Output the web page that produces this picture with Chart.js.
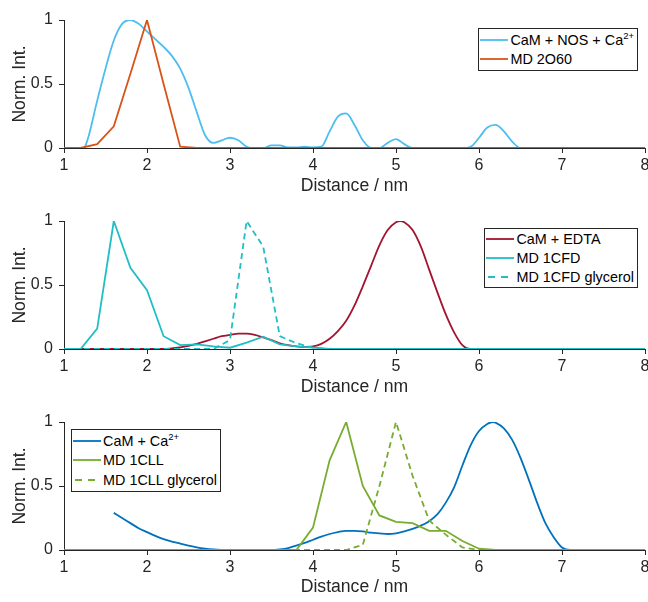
<!DOCTYPE html>
<html>
<head>
<meta charset="utf-8">
<script src="https://cdn.jsdelivr.net/npm/chart.js@4.4.0/dist/chart.umd.min.js"></script>
<style>
  body { margin: 0; background: #fff; }
  #wrap { position: relative; width: 648px; height: 602px; overflow: hidden; font-family: 'Liberation Sans', Arial, sans-serif; }
  canvas { position: absolute; left: 0; }
  .legend { position: absolute; border: 1px solid #262626; background: #fff; font-size: 14.4px; color: #000; padding: 1px 3px 1px 1px; }
  .row { display: flex; align-items: center; height: 19.5px; white-space: nowrap; }
  #leg2 .row { height: 18.8px; }
  .row svg { margin-right: 2px; flex: none; }
  sup { font-size: 9.5px; line-height: 0; vertical-align: 6px; }
</style>
</head>
<body>
<div id="wrap">
  <canvas id="c1" width="648" height="201" style="top:0"></canvas>
  <canvas id="c2" width="648" height="201" style="top:201px"></canvas>
  <canvas id="c3" width="648" height="200" style="top:402px"></canvas>
  <div class="legend" id="leg1" style="top:28px; right:10px"></div>
  <div class="legend" id="leg2" style="top:228px; right:10px"></div>
  <div class="legend" id="leg3" style="top:429px; left:71px"></div>
</div>
<script>
// panel 1 : CaM + NOS + Ca2+ vs MD 2O60
const nosX = [1.25, 1.3, 1.4, 1.5, 1.6, 1.7, 1.8, 1.9, 2.0, 2.1, 2.2, 2.3, 2.4, 2.5, 2.6, 2.7, 2.8, 2.9, 3.0, 3.1, 3.2, 3.3, 3.4,
  3.5, 3.6, 3.7, 3.8, 3.9, 4.0, 4.1, 4.2, 4.3, 4.4, 4.5, 4.6, 4.7, 4.8, 4.9, 5.0, 5.1, 5.2, 5.8, 5.9, 6.0, 6.1, 6.2, 6.3, 6.4, 6.5, 8.0];
const nosY = [0, 0.1, 0.37, 0.62, 0.84, 0.97, 1.0, 0.97, 0.91, 0.85, 0.79, 0.72, 0.62, 0.47, 0.28, 0.1, 0.04, 0.06, 0.08, 0.06, 0.01, 0, 0,
  0.02, 0.02, 0.005, 0.005, 0.01, 0.005, 0.01, 0.13, 0.245, 0.27, 0.18, 0.06, 0, 0, 0.04, 0.07, 0.03, 0, 0, 0.01, 0.08, 0.16, 0.18, 0.13, 0.05, 0, 0];
const md2o60X = [1.0, 1.2, 1.4, 1.6, 1.8, 2.0, 2.2, 2.4, 2.6, 8.0];
const md2o60Y = [0, 0, 0.03, 0.17, 0.58, 1.0, 0.5, 0.01, 0, 0];

// panel 2 : CaM + EDTA vs MD 1CFD
const edtaX = [1.0, 2.2, 2.3, 2.4, 2.5, 2.6, 2.7, 2.8, 2.9, 3.0, 3.1, 3.2, 3.3, 3.4, 3.5, 3.6, 3.7, 3.8, 3.9, 4.0, 4.1, 4.2, 4.3,
  4.4, 4.5, 4.6, 4.7, 4.8, 4.9, 5.0, 5.05, 5.1, 5.2, 5.3, 5.4, 5.5, 5.6, 5.7, 5.8, 5.9, 8.0];
const edtaY = [0, 0, 0.005, 0.012, 0.025, 0.04, 0.06, 0.08, 0.1, 0.11, 0.12, 0.12, 0.11, 0.09, 0.07, 0.045, 0.03, 0.02, 0.015, 0.02, 0.04, 0.08, 0.14,
  0.22, 0.34, 0.49, 0.65, 0.81, 0.93, 0.99, 1.0, 0.99, 0.93, 0.8, 0.62, 0.44, 0.27, 0.13, 0.03, 0, 0];
const md1cfdX = [1.0, 1.2, 1.4, 1.6, 1.8, 2.0, 2.2, 2.4, 2.6, 2.8, 3.0, 3.2, 3.4, 3.6, 3.8, 4.0, 4.2, 8.0];
const md1cfdY = [0, 0, 0.16, 1.0, 0.635, 0.46, 0.1, 0.03, 0.036, 0.02, 0.01, 0.05, 0.096, 0.036, 0.02, 0.01, 0, 0];
const md1cfdGlyX = [1.0, 2.8, 3.0, 3.2, 3.4, 3.6, 3.8, 4.0, 4.2, 8.0];
const md1cfdGlyY = [0, 0, 0.07, 1.0, 0.8, 0.1, 0.045, 0.01, 0, 0];

// panel 3 : CaM + Ca2+ vs MD 1CLL
const caX = [1.6, 1.7, 1.8, 1.9, 2.0, 2.1, 2.2, 2.3, 2.4, 2.5, 2.6, 2.7, 2.8, 2.9, 3.0, 3.5, 3.6, 3.7, 3.8, 3.9, 4.0, 4.1, 4.2, 4.3,
  4.4, 4.5, 4.6, 4.7, 4.8, 4.9, 5.0, 5.1, 5.2, 5.3, 5.4, 5.5, 5.6, 5.7, 5.8, 5.9, 6.0, 6.1, 6.17, 6.2, 6.3, 6.4, 6.5, 6.6, 6.7, 6.8, 6.9, 7.0, 7.1, 8.0];
const caY = [0.29, 0.25, 0.21, 0.17, 0.14, 0.11, 0.085, 0.065, 0.05, 0.035, 0.02, 0.01, 0.004, 0.001, 0, 0, 0.005, 0.015, 0.035, 0.055, 0.08, 0.105, 0.125, 0.14,
  0.15, 0.15, 0.145, 0.135, 0.13, 0.125, 0.13, 0.145, 0.165, 0.19, 0.225, 0.28, 0.37, 0.49, 0.66, 0.82, 0.93, 0.985, 1.0, 0.995, 0.95, 0.86, 0.72, 0.55, 0.37, 0.21, 0.1, 0.02, 0, 0];
const md1cllX = [1.0, 3.8, 4.0, 4.2, 4.4, 4.6, 4.8, 5.0, 5.2, 5.4, 5.6, 5.8, 6.0, 6.2, 8.0];
const md1cllY = [0, 0, 0.175, 0.7, 1.0, 0.5, 0.27, 0.22, 0.21, 0.15, 0.15, 0.07, 0.01, 0, 0];
const md1cllGlyX = [1.0, 4.4, 4.6, 4.8, 5.0, 5.2, 5.4, 5.6, 5.8, 6.0, 8.0];
const md1cllGlyY = [0, 0, 0.04, 0.5, 1.0, 0.58, 0.23, 0.12, 0.02, 0, 0];

const axisColor = '#262626';
const fontFamily = "'Liberation Sans', Arial, sans-serif";

function pts(xs, ys) {
  return xs.map((x, i) => ({ x: x, y: ys[i] }));
}

function series(label, xs, ys, color, opts) {
  const o = opts || {};
  return {
    label: label,
    data: pts(xs, ys),
    borderColor: color,
    borderWidth: 1.8,
    borderDash: o.dash ? [6, 4] : [],
    pointRadius: 0,
    fill: false,
    tension: 0,
    cubicInterpolationMode: o.smooth ? 'monotone' : 'default',
    order: o.order
  };
}

function makePanel(id, datasets, axisH) {
  const ctx = document.getElementById(id).getContext('2d');
  return new Chart(ctx, {
    type: 'line',
    data: { datasets: datasets },
    options: {
      responsive: false,
      animation: false,
      events: [],
      layout: { padding: { top: 20, right: 3, left: 0, bottom: 0 } },
      plugins: { legend: { display: false }, tooltip: { enabled: false } },
      scales: {
        x: {
          type: 'linear', min: 1, max: 8,
          afterFit: s => { s.height = axisH; s.paddingLeft = 0; s.paddingRight = 0; },
          ticks: { stepSize: 1, color: axisColor, font: { size: 16, family: fontFamily }, padding: 3, maxRotation: 0, autoSkip: false },
          grid: { drawOnChartArea: false, drawTicks: true, tickLength: 5, color: axisColor },
          border: { color: axisColor, width: 1 },
          title: { display: true, text: 'Distance / nm', color: axisColor, font: { size: 17.6, family: fontFamily }, padding: { top: 0, bottom: 4 } }
        },
        y: {
          min: 0, max: 1,
          afterFit: s => { s.width = 64; s.paddingTop = 0; s.paddingBottom = 0; },
          ticks: { stepSize: 0.5, color: axisColor, font: { size: 16, family: fontFamily }, padding: 6, callback: v => String(v) },
          grid: { drawOnChartArea: false, drawTicks: true, tickLength: 5, color: axisColor },
          border: { color: axisColor, width: 1 },
          title: { display: true, text: 'Norm. Int.', color: axisColor, font: { size: 17.6, family: fontFamily }, padding: { top: 10, bottom: 0 } }
        }
      }
    }
  });
}

function legendRow(html, color, dashed) {
  const dash = dashed ? ' stroke-dasharray="7 6" stroke-dashoffset="-2"' : '';
  return '<div class="row"><svg width="28" height="4"><line x1="0" y1="2" x2="28" y2="2" stroke="' + color +
    '" stroke-width="1.8"' + dash + '/></svg><span>' + html + '</span></div>';
}

const c1 = '#4DBEEE', c2 = '#D95319';
const c3 = '#A2142F', c4 = '#1FBFC4';
const c5 = '#0072BD', c6 = '#77AC30';

makePanel('c1', [
  series('CaM + NOS + Ca2+', nosX, nosY, c1, { smooth: true, order: 2 }),
  series('MD 2O60', md2o60X, md2o60Y, c2, { order: 1 })
], 53);

makePanel('c2', [
  series('CaM + EDTA', edtaX, edtaY, c3, { smooth: true, order: 3 }),
  series('MD 1CFD', md1cfdX, md1cfdY, c4, { order: 2 }),
  series('MD 1CFD glycerol', md1cfdGlyX, md1cfdGlyY, c4, { dash: true, order: 1 })
], 53);

makePanel('c3', [
  series('CaM + Ca2+', caX, caY, c5, { smooth: true, order: 3 }),
  series('MD 1CLL', md1cllX, md1cllY, c6, { order: 2 }),
  series('MD 1CLL glycerol', md1cllGlyX, md1cllGlyY, c6, { dash: true, order: 1 })
], 52);

document.getElementById('leg1').innerHTML =
  legendRow('CaM + NOS + Ca<sup>2+</sup>', c1) + legendRow('MD 2O60', c2);
document.getElementById('leg2').innerHTML =
  legendRow('CaM + EDTA', c3) + legendRow('MD 1CFD', c4) + legendRow('MD 1CFD glycerol', c4, true);
document.getElementById('leg3').innerHTML =
  legendRow('CaM + Ca<sup>2+</sup>', c5) + legendRow('MD 1CLL', c6) + legendRow('MD 1CLL glycerol', c6, true);
</script>
</body>
</html>
